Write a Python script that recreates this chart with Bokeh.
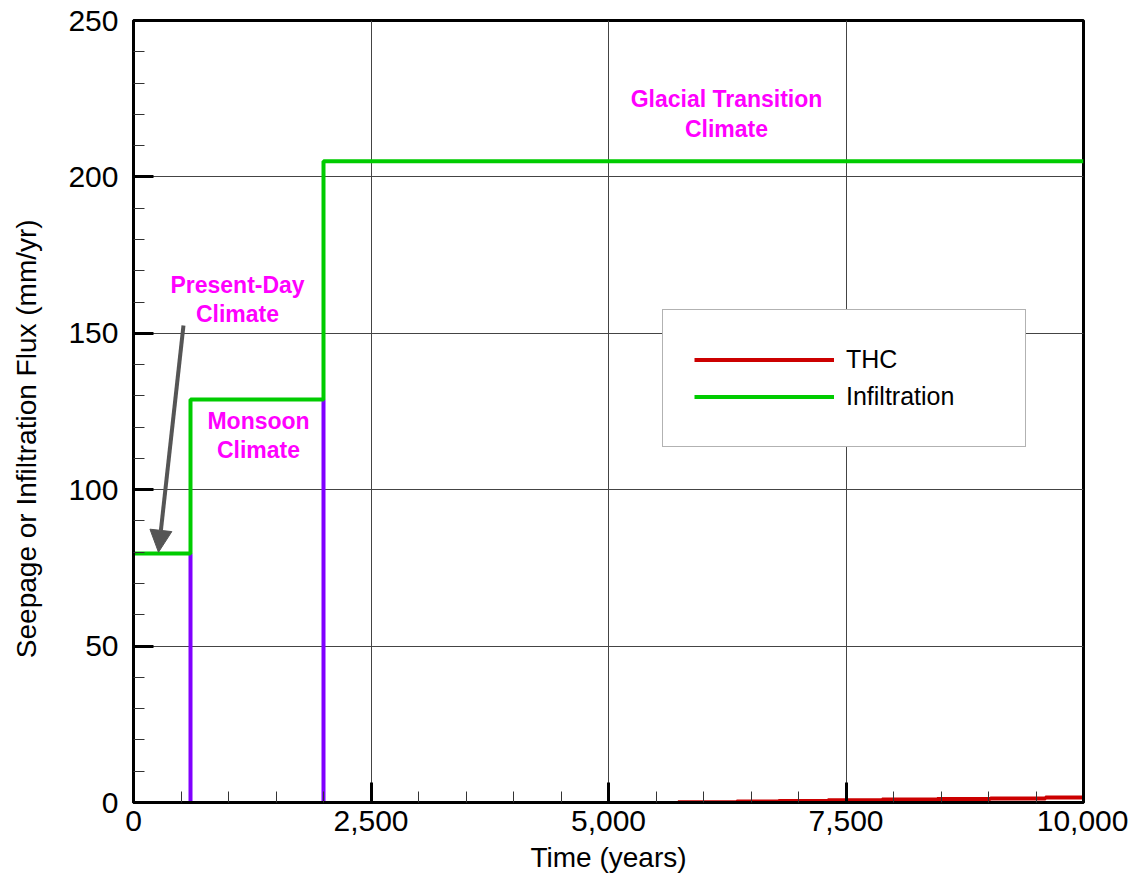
from bokeh.plotting import figure
from bokeh.models import (FixedTicker, NumeralTickFormatter, Legend, LegendItem,
                          Arrow, NormalHead, ColumnDataSource)
from bokeh.core.properties import value
from bokeh.embed import file_html
from bokeh.resources import INLINE

# ---- data ----
infil_time = [0, 600, 2000, 10000]
infil_flux = [79.6, 128.8, 205.0, 205.0]

seep_time = [600, 2000]
seep_top = [79.6, 128.8]
seep_bottom = [0, 0]

thc_time = [5730, 6350, 6790, 7310, 7880, 8460, 9020, 9600, 10000]
thc_flux = [0.1, 0.3, 0.45, 0.7, 0.95, 1.1, 1.3, 1.6, 1.6]

x_ticks = [0, 2500, 5000, 7500, 10000]
x_minor = [500, 1000, 1500, 2000, 3000, 3500, 4000, 4500, 5500, 6000, 6500, 7000,
           8000, 8500, 9000, 9500]
y_ticks = [0, 50, 100, 150, 200, 250]
y_minor = [10, 20, 30, 40, 60, 70, 80, 90, 110, 120, 130, 140, 160, 170, 180, 190,
           210, 220, 230, 240]

label_x = [1095, 1316, 6242]
label_y = [160.8, 117.2, 220.1]
label_text = ["Present-Day\nClimate", "Monsoon\nClimate", "Glacial Transition\nClimate"]

arrow_start = (526, 152.5)
arrow_end = (263, 80.0)

FONT = "Liberation Sans"

p = figure(width=1128, height=877, x_range=(0, 10000), y_range=(0, 250),
           output_backend="svg", toolbar_location=None,
           min_border_left=133, min_border_top=20, min_border_right=45,
           min_border_bottom=75)
p.background_fill_color = "white"
p.border_fill_color = "white"
p.outline_line_color = "black"
p.outline_line_width = 3

# grids
p.xgrid.ticker = FixedTicker(ticks=x_ticks)
p.ygrid.ticker = FixedTicker(ticks=y_ticks)
for g in (p.xgrid, p.ygrid):
    g.grid_line_color = "#444444"
    g.grid_line_width = 1

# axes
p.xaxis.ticker = FixedTicker(ticks=x_ticks, minor_ticks=x_minor)
p.xaxis.formatter = NumeralTickFormatter(format="0,0")
p.yaxis.ticker = FixedTicker(ticks=y_ticks, minor_ticks=y_minor)
p.xaxis.axis_label = "Time (years)"
p.yaxis.axis_label = "Seepage or Infiltration Flux (mm/yr)" + "\u00a0" * 7
for ax in (p.xaxis, p.yaxis):
    ax.axis_line_width = 3
    ax.axis_line_color = "black"
    ax.major_tick_in = 20
    ax.major_tick_out = 0
    ax.major_tick_line_width = 3
    ax.major_tick_line_color = "black"
    ax.minor_tick_in = 11
    ax.minor_tick_out = 0
    ax.minor_tick_line_width = 1
    ax.minor_tick_line_color = "#333333"
    ax.major_label_text_font = FONT
    ax.major_label_text_font_size = "30px"
    ax.major_label_text_color = "black"
    ax.axis_label_text_font = FONT
    ax.axis_label_text_font_size = "28px"
    ax.axis_label_text_font_style = "normal"
    ax.axis_label_text_color = "black"
p.xaxis.major_label_standoff = 8
p.xaxis.axis_label_standoff = 8
p.yaxis.major_label_standoff = 15
p.yaxis.axis_label_standoff = 23

# seepage (purple verticals)
p.segment(x0=seep_time, y0=seep_bottom, x1=seep_time, y1=seep_top,
          line_color="#8000FF", line_width=4)

# infiltration
r_inf = p.step(infil_time, infil_flux, mode="after", line_color="#00CC00", line_width=4)

# THC
r_thc = p.step(thc_time, thc_flux, mode="after", line_color="#CC0000", line_width=4)

# arrow
p.add_layout(Arrow(end=NormalHead(size=22, fill_color="#555555", line_color="#555555"),
                   x_start=arrow_start[0], y_start=arrow_start[1],
                   x_end=arrow_end[0], y_end=arrow_end[1],
                   line_color="#555555", line_width=4))

# labels
src = ColumnDataSource(dict(x=label_x, y=label_y, text=label_text))
p.text(x="x", y="y", text="text", source=src, text_align="center",
       text_baseline="middle", text_font=value(FONT), text_font_style="bold",
       text_font_size="23px", text_color="#FF00FF", text_line_height=1.12)

legend = Legend(items=[LegendItem(label="THC", renderers=[r_thc]),
                       LegendItem(label="Infiltration", renderers=[r_inf])],
                location=(529, 355), margin=0, padding=31, spacing=0,
                glyph_width=140, glyph_height=37, label_height=37, label_width=148,
                label_standoff=12, label_text_font=FONT, label_text_font_size="25px",
                label_text_color="black",
                border_line_color="#666666", border_line_width=1,
                background_fill_color="white", background_fill_alpha=1.0)
p.add_layout(legend)

open("out.html", "w").write(file_html(p, INLINE))
